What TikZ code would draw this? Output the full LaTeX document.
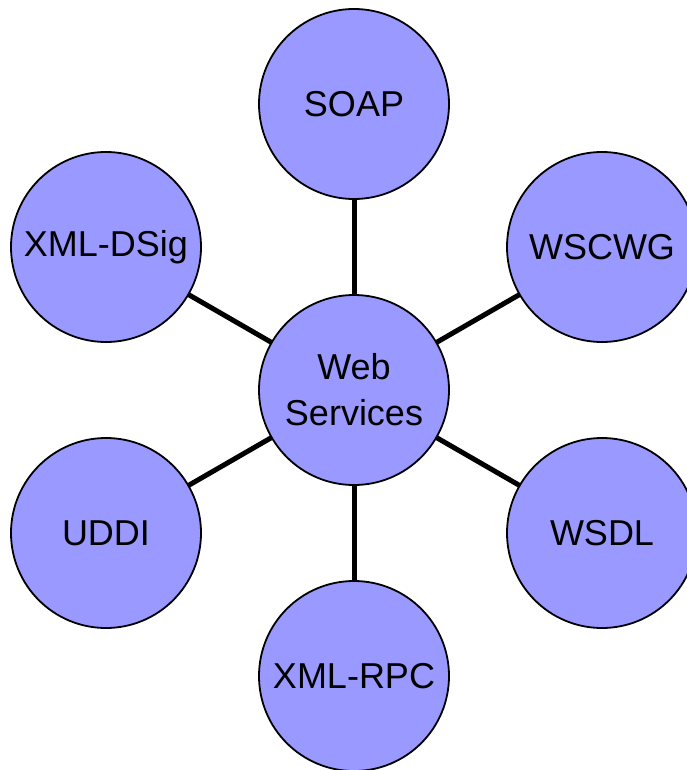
\documentclass[tikz,border=0pt]{standalone}
\usepackage{fontspec}
\setmainfont{Liberation Sans}
\usetikzlibrary{backgrounds}
\definecolor{bubble}{HTML}{9999FF}
\begin{document}
\begin{tikzpicture}[x=1pt,y=-1pt,
  bubble/.style={circle,draw=black,line width=1.8pt,fill=bubble,minimum size=190pt,inner sep=0pt,
    font=\fontsize{36}{46}\selectfont,align=center},
  link/.style={line width=5pt,draw=black}]
\useasboundingbox (0,0) rectangle (687,770);
\node[bubble] (ws) at (354,390) {Web\\Services};
\node[bubble] (soap) at (354,104) {SOAP};
\node[bubble] (dsig) at (106,247) {XML-DSig};
\node[bubble] (wscwg) at (602,247) {WSCWG};
\node[bubble] (uddi) at (106,533) {UDDI};
\node[bubble] (wsdl) at (602,533) {WSDL};
\node[bubble] (rpc) at (354,676) {XML-RPC};
\begin{scope}[on background layer]
\draw[link] (ws.center) -- (soap.center);
\draw[link] (ws.center) -- (dsig.center);
\draw[link] (ws.center) -- (wscwg.center);
\draw[link] (ws.center) -- (uddi.center);
\draw[link] (ws.center) -- (wsdl.center);
\draw[link] (ws.center) -- (rpc.center);
\end{scope}
\end{tikzpicture}
\end{document}
